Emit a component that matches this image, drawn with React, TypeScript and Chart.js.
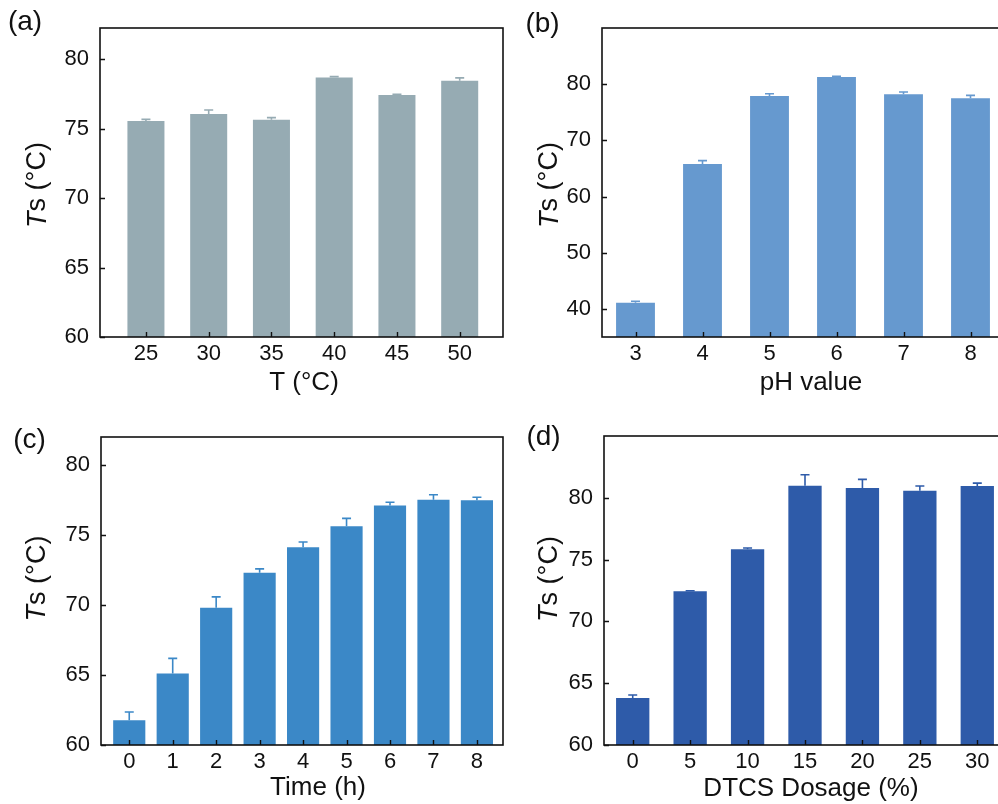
import React, { useEffect, useRef } from "react";
import { Chart, registerables } from "chart.js";
Chart.register(...registerables);

// ---- Data ----
const tempCats = [25, 30, 35, 40, 45, 50];
const tempValues = [75.55, 76.05, 75.65, 78.68, 77.42, 78.46];
const tempErrors = [0.12, 0.3, 0.15, 0.07, 0.05, 0.2];
const tempYTicks = [60, 65, 70, 75, 80];

const phCats = [3, 4, 5, 6, 7, 8];
const phValues = [41.1, 65.8, 77.9, 81.3, 78.2, 77.5];
const phErrors = [0.25, 0.6, 0.4, 0.1, 0.4, 0.5];
const phYTicks = [40, 50, 60, 70, 80];

const timeCats = [0, 1, 2, 3, 4, 5, 6, 7, 8];
const timeValues = [61.76, 65.1, 69.8, 72.3, 74.12, 75.62, 77.1, 77.51, 77.49];
const timeErrors = [0.6, 1.09, 0.78, 0.28, 0.38, 0.57, 0.24, 0.36, 0.21];
const timeYTicks = [60, 65, 70, 75, 80];

const dosageCats = [0, 5, 10, 15, 20, 25, 30];
const dosageValues = [63.81, 72.43, 75.84, 80.97, 80.79, 80.57, 80.95];
const dosageErrors = [0.24, 0.05, 0.1, 0.9, 0.7, 0.38, 0.24];
const dosageYTicks = [60, 65, 70, 75, 80];

const FONT = "'Liberation Sans', Arial, Helvetica, sans-serif";

type Panel = {
  tag: string;
  xTitle: string;
  cats: number[];
  values: number[];
  errors: number[];
  yTicks: number[];
  color: string;
  xMin: number;
  xMax: number;
  yMin: number;
  yMax: number;
  barPct: number;
  left: number;
  top: number;
  width: number;
  height: number;
  padTop: number;
  padRight: number;
  yAxisW: number;
  xAxisH: number;
  tagX: number;
  tagY: number;
  yTitleX: number;
  yTitleY: number;
  xTitleX: number;
  xTitleY: number;
};

const panels: Panel[] = [
  {
    tag: "(a)", xTitle: "T (°C)", cats: tempCats, values: tempValues, errors: tempErrors, yTicks: tempYTicks,
    color: "#96abb3", xMin: 21.34, xMax: 53.45, yMin: 60, yMax: 82.25, barPct: 0.59,
    left: 0, top: 0, width: 520, height: 400, padTop: 28, padRight: 17, yAxisW: 100, xAxisH: 63,
    tagX: 25, tagY: 22, yTitleX: 38, yTitleY: 185, xTitleX: 304, xTitleY: 383,
  },
  {
    tag: "(b)", xTitle: "pH value", cats: phCats, values: phValues, errors: phErrors, yTicks: phYTicks,
    color: "#6699cf", xMin: 2.5, xMax: 8.5, yMin: 35, yMax: 90, barPct: 0.58,
    left: 500, top: 0, width: 530, height: 400, padTop: 28, padRight: 26, yAxisW: 102, xAxisH: 63,
    tagX: 42.5, tagY: 24, yTitleX: 50, yTitleY: 185, xTitleX: 311, xTitleY: 383,
  },
  {
    tag: "(c)", xTitle: "Time (h)", cats: timeCats, values: timeValues, errors: timeErrors, yTicks: timeYTicks,
    color: "#3b88c7", xMin: -0.65, xMax: 8.6, yMin: 60, yMax: 82, barPct: 0.74,
    left: 0, top: 400, width: 520, height: 404, padTop: 37, padRight: 17, yAxisW: 101, xAxisH: 59,
    tagX: 29.5, tagY: 40, yTitleX: 37.5, yTitleY: 178.5, xTitleX: 318, xTitleY: 388,
  },
  {
    tag: "(d)", xTitle: "DTCS Dosage (%)", cats: dosageCats, values: dosageValues, errors: dosageErrors, yTicks: dosageYTicks,
    color: "#2e5ba9", xMin: -2.5, xMax: 32.5, yMin: 60, yMax: 85, barPct: 0.58,
    left: 500, top: 400, width: 530, height: 404, padTop: 36, padRight: 24, yAxisW: 104, xAxisH: 59,
    tagX: 43.5, tagY: 37, yTitleX: 49.5, yTitleY: 179, xTitleX: 311, xTitleY: 389,
  },
];

function makeDecor(p: Panel) {
  return {
    id: "decor",
    afterDatasetsDraw(chart: any) {
      const ctx = chart.ctx as CanvasRenderingContext2D;
      const ys = chart.scales.y;
      const xs = chart.scales.x;
      const a = chart.chartArea;
      const meta = chart.getDatasetMeta(0);
      ctx.save();
      // error bars (upper only, with cap)
      ctx.strokeStyle = p.color;
      ctx.lineWidth = 1.6;
      meta.data.forEach((bar: any, i: number) => {
        const yTop = ys.getPixelForValue(p.values[i] + p.errors[i]);
        ctx.beginPath();
        ctx.moveTo(bar.x, bar.y);
        ctx.lineTo(bar.x, yTop);
        ctx.moveTo(bar.x - 4.5, yTop);
        ctx.lineTo(bar.x + 4.5, yTop);
        ctx.stroke();
      });
      // frame
      ctx.strokeStyle = "#111";
      ctx.lineWidth = 1.6;
      ctx.strokeRect(a.left, a.top, a.right - a.left, a.bottom - a.top);
      // inward ticks
      ctx.lineWidth = 1.4;
      ctx.beginPath();
      ys.ticks.forEach((t: any) => {
        const y = Math.round(ys.getPixelForValue(t.value)) + 0.5;
        ctx.moveTo(a.left, y);
        ctx.lineTo(a.left + 5, y);
      });
      xs.ticks.forEach((t: any) => {
        const x = Math.round(xs.getPixelForValue(t.value)) + 0.5;
        ctx.moveTo(x, a.bottom);
        ctx.lineTo(x, a.bottom - 5);
      });
      ctx.stroke();
      ctx.restore();
    },
    afterDraw(chart: any) {
      const ctx = chart.ctx as CanvasRenderingContext2D;
      ctx.save();
      ctx.fillStyle = "#111";
      ctx.textBaseline = "middle";
      // panel tag
      ctx.font = `28px ${FONT}`;
      ctx.textAlign = "center";
      ctx.fillText(p.tag, p.tagX, p.tagY);
      // x title
      ctx.font = `26px ${FONT}`;
      ctx.fillText(p.xTitle, p.xTitleX, p.xTitleY);
      // y title: italic T + "s (°C)"
      const itFont = `italic 27px ${FONT}`;
      const rgFont = `27px ${FONT}`;
      ctx.font = itFont;
      const w1 = ctx.measureText("T").width;
      ctx.font = rgFont;
      const w2 = ctx.measureText("s (°C)").width;
      const total = w1 + w2;
      ctx.translate(p.yTitleX, p.yTitleY);
      ctx.rotate(-Math.PI / 2);
      ctx.textAlign = "left";
      ctx.font = itFont;
      ctx.fillText("T", -total / 2, 0);
      ctx.font = rgFont;
      ctx.fillText("s (°C)", -total / 2 + w1, 0);
      ctx.restore();
    },
  };
}

function PanelChart({ p }: { p: Panel }) {
  const ref = useRef<HTMLCanvasElement>(null);
  useEffect(() => {
    const canvas = ref.current!;
    const chart = new Chart(canvas, {
      type: "bar",
      data: {
        datasets: [
          {
            data: p.cats.map((c, i) => ({ x: c, y: p.values[i] })),
            backgroundColor: p.color,
            borderWidth: 0,
            categoryPercentage: 1,
            barPercentage: p.barPct,
          } as any,
        ],
      },
      options: {
        responsive: false,
        animation: false,
        devicePixelRatio: 1,
        events: [],
        layout: {
          autoPadding: false,
          padding: { top: p.padTop, right: p.padRight, left: 0, bottom: 0 },
        } as any,
        plugins: {
          legend: { display: false },
          tooltip: { enabled: false },
          title: { display: false },
        },
        scales: {
          x: {
            type: "linear",
            min: p.xMin,
            max: p.xMax,
            bounds: "data",
            offset: false,
            grid: { display: false, drawTicks: false, offset: false },
            border: { display: false },
            afterBuildTicks: (s: any) => {
              s.ticks = p.cats.map((v) => ({ value: v }));
            },
            afterFit: (s: any) => {
              s.height = p.xAxisH;
            },
            ticks: {
              font: { family: FONT, size: 22 },
              color: "#111",
              padding: 4,
              maxRotation: 0,
              autoSkip: false,
            },
          },
          y: {
            type: "linear",
            min: p.yMin,
            max: p.yMax,
            bounds: "data",
            grid: { display: false, drawTicks: false },
            border: { display: false },
            afterBuildTicks: (s: any) => {
              s.ticks = p.yTicks.map((v) => ({ value: v }));
            },
            afterFit: (s: any) => {
              s.width = p.yAxisW;
            },
            ticks: {
              font: { family: FONT, size: 22 },
              color: "#111",
              padding: 11,
              autoSkip: false,
            },
          },
        } as any,
      },
      plugins: [makeDecor(p)],
    });
    return () => chart.destroy();
  }, [p]);
  return (
    <canvas
      ref={ref}
      width={p.width}
      height={p.height}
      style={{ position: "absolute", left: p.left, top: p.top, width: p.width, height: p.height }}
    />
  );
}

export default function App() {
  return (
    <div
      style={{
        position: "fixed",
        left: 0,
        top: 0,
        width: 998,
        height: 804,
        overflow: "hidden",
        background: "#fff",
      }}
    >
      {panels.map((p) => (
        <PanelChart key={p.tag} p={p} />
      ))}
    </div>
  );
}
